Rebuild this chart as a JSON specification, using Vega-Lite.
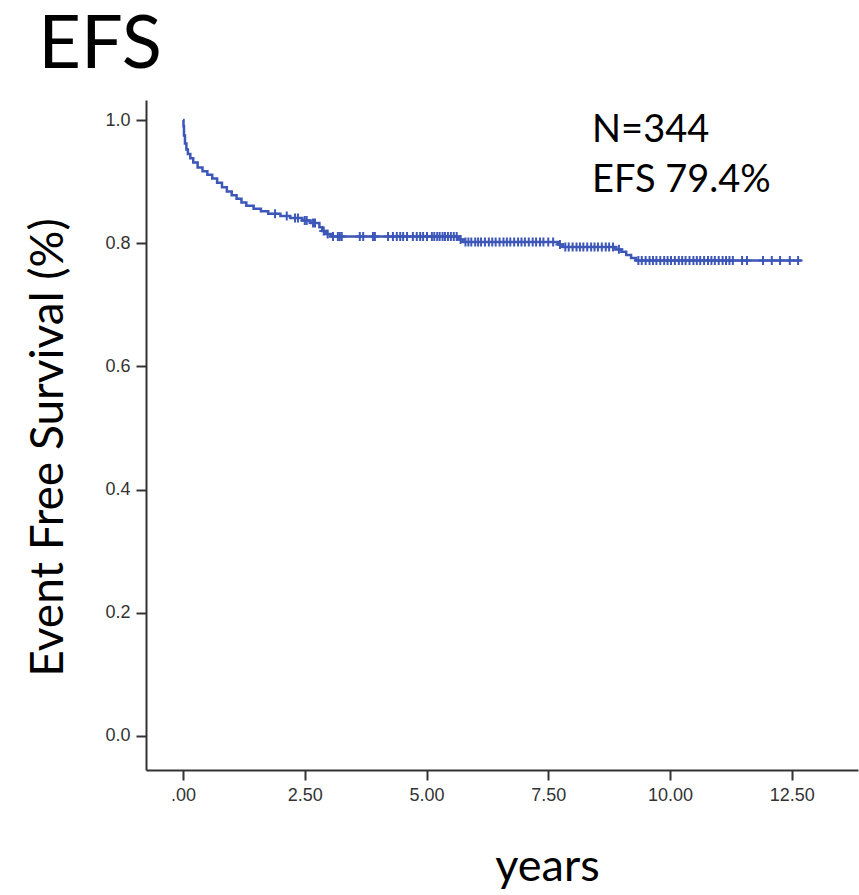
{
  "$schema": "https://vega.github.io/schema/vega-lite/v6.json",
  "width": 712,
  "height": 670,
  "autosize": "none",
  "padding": {"left": 146, "top": 100, "right": 1, "bottom": 125},
  "background": "white",
  "config": {"view": {"stroke": null}},
  "datasets": {
    "km": [
      {"t": 0, "s": 1.0, "c": 0},
      {"t": 0.01, "s": 0.99, "c": 0},
      {"t": 0.02, "s": 0.975, "c": 0},
      {"t": 0.04, "s": 0.962, "c": 0},
      {"t": 0.07, "s": 0.952, "c": 0},
      {"t": 0.10, "s": 0.945, "c": 0},
      {"t": 0.15, "s": 0.938, "c": 0},
      {"t": 0.21, "s": 0.931, "c": 0},
      {"t": 0.30, "s": 0.923, "c": 0},
      {"t": 0.40, "s": 0.917, "c": 0},
      {"t": 0.50, "s": 0.911, "c": 0},
      {"t": 0.60, "s": 0.905, "c": 0},
      {"t": 0.70, "s": 0.898, "c": 0},
      {"t": 0.80, "s": 0.891, "c": 0},
      {"t": 0.90, "s": 0.884, "c": 0},
      {"t": 1.00, "s": 0.878, "c": 0},
      {"t": 1.10, "s": 0.872, "c": 0},
      {"t": 1.20, "s": 0.866, "c": 0},
      {"t": 1.30, "s": 0.861, "c": 0},
      {"t": 1.45, "s": 0.856, "c": 0},
      {"t": 1.60, "s": 0.852, "c": 0},
      {"t": 1.75, "s": 0.848, "c": 0},
      {"t": 1.89, "s": 0.848, "c": 1},
      {"t": 2.00, "s": 0.844, "c": 0},
      {"t": 2.13, "s": 0.844, "c": 1},
      {"t": 2.20, "s": 0.841, "c": 0},
      {"t": 2.30, "s": 0.841, "c": 1},
      {"t": 2.36, "s": 0.841, "c": 1},
      {"t": 2.45, "s": 0.837, "c": 0},
      {"t": 2.50, "s": 0.837, "c": 1},
      {"t": 2.54, "s": 0.837, "c": 1},
      {"t": 2.62, "s": 0.833, "c": 0},
      {"t": 2.67, "s": 0.833, "c": 1},
      {"t": 2.71, "s": 0.833, "c": 1},
      {"t": 2.80, "s": 0.826, "c": 0},
      {"t": 2.86, "s": 0.820, "c": 0},
      {"t": 2.89, "s": 0.820, "c": 1},
      {"t": 2.93, "s": 0.815, "c": 0},
      {"t": 2.97, "s": 0.815, "c": 1},
      {"t": 3.03, "s": 0.811, "c": 0},
      {"t": 3.08, "s": 0.811, "c": 1},
      {"t": 3.18, "s": 0.811, "c": 1},
      {"t": 3.22, "s": 0.811, "c": 1},
      {"t": 3.26, "s": 0.811, "c": 1},
      {"t": 3.63, "s": 0.811, "c": 1},
      {"t": 3.70, "s": 0.811, "c": 1},
      {"t": 3.90, "s": 0.811, "c": 1},
      {"t": 3.94, "s": 0.811, "c": 1},
      {"t": 4.21, "s": 0.811, "c": 1},
      {"t": 4.31, "s": 0.811, "c": 1},
      {"t": 4.39, "s": 0.811, "c": 1},
      {"t": 4.46, "s": 0.811, "c": 1},
      {"t": 4.52, "s": 0.811, "c": 1},
      {"t": 4.60, "s": 0.811, "c": 1},
      {"t": 4.72, "s": 0.811, "c": 1},
      {"t": 4.80, "s": 0.811, "c": 1},
      {"t": 4.87, "s": 0.811, "c": 1},
      {"t": 4.93, "s": 0.811, "c": 1},
      {"t": 5.01, "s": 0.811, "c": 1},
      {"t": 5.11, "s": 0.811, "c": 1},
      {"t": 5.16, "s": 0.811, "c": 1},
      {"t": 5.22, "s": 0.811, "c": 1},
      {"t": 5.27, "s": 0.811, "c": 1},
      {"t": 5.33, "s": 0.811, "c": 1},
      {"t": 5.38, "s": 0.811, "c": 1},
      {"t": 5.44, "s": 0.811, "c": 1},
      {"t": 5.50, "s": 0.811, "c": 1},
      {"t": 5.56, "s": 0.811, "c": 1},
      {"t": 5.62, "s": 0.811, "c": 1},
      {"t": 5.66, "s": 0.806, "c": 0},
      {"t": 5.70, "s": 0.806, "c": 1},
      {"t": 5.76, "s": 0.802, "c": 0},
      {"t": 5.80, "s": 0.802, "c": 1},
      {"t": 5.86, "s": 0.802, "c": 1},
      {"t": 5.92, "s": 0.802, "c": 1},
      {"t": 6.00, "s": 0.802, "c": 1},
      {"t": 6.06, "s": 0.802, "c": 1},
      {"t": 6.12, "s": 0.802, "c": 1},
      {"t": 6.20, "s": 0.802, "c": 1},
      {"t": 6.28, "s": 0.802, "c": 1},
      {"t": 6.35, "s": 0.802, "c": 1},
      {"t": 6.42, "s": 0.802, "c": 1},
      {"t": 6.50, "s": 0.802, "c": 1},
      {"t": 6.58, "s": 0.802, "c": 1},
      {"t": 6.65, "s": 0.802, "c": 1},
      {"t": 6.72, "s": 0.802, "c": 1},
      {"t": 6.80, "s": 0.802, "c": 1},
      {"t": 6.88, "s": 0.802, "c": 1},
      {"t": 6.95, "s": 0.802, "c": 1},
      {"t": 7.02, "s": 0.802, "c": 1},
      {"t": 7.10, "s": 0.802, "c": 1},
      {"t": 7.18, "s": 0.802, "c": 1},
      {"t": 7.25, "s": 0.802, "c": 1},
      {"t": 7.33, "s": 0.802, "c": 1},
      {"t": 7.40, "s": 0.802, "c": 1},
      {"t": 7.50, "s": 0.802, "c": 1},
      {"t": 7.60, "s": 0.802, "c": 1},
      {"t": 7.70, "s": 0.798, "c": 0},
      {"t": 7.74, "s": 0.798, "c": 1},
      {"t": 7.80, "s": 0.794, "c": 0},
      {"t": 7.85, "s": 0.794, "c": 1},
      {"t": 7.92, "s": 0.794, "c": 1},
      {"t": 8.00, "s": 0.794, "c": 1},
      {"t": 8.08, "s": 0.794, "c": 1},
      {"t": 8.15, "s": 0.794, "c": 1},
      {"t": 8.22, "s": 0.794, "c": 1},
      {"t": 8.30, "s": 0.794, "c": 1},
      {"t": 8.38, "s": 0.794, "c": 1},
      {"t": 8.45, "s": 0.794, "c": 1},
      {"t": 8.52, "s": 0.794, "c": 1},
      {"t": 8.60, "s": 0.794, "c": 1},
      {"t": 8.68, "s": 0.794, "c": 1},
      {"t": 8.75, "s": 0.794, "c": 1},
      {"t": 8.83, "s": 0.794, "c": 1},
      {"t": 8.88, "s": 0.790, "c": 0},
      {"t": 8.95, "s": 0.790, "c": 1},
      {"t": 9.00, "s": 0.786, "c": 0},
      {"t": 9.10, "s": 0.781, "c": 0},
      {"t": 9.20, "s": 0.776, "c": 0},
      {"t": 9.30, "s": 0.772, "c": 0},
      {"t": 9.35, "s": 0.772, "c": 1},
      {"t": 9.42, "s": 0.772, "c": 1},
      {"t": 9.50, "s": 0.772, "c": 1},
      {"t": 9.58, "s": 0.772, "c": 1},
      {"t": 9.65, "s": 0.772, "c": 1},
      {"t": 9.72, "s": 0.772, "c": 1},
      {"t": 9.80, "s": 0.772, "c": 1},
      {"t": 9.88, "s": 0.772, "c": 1},
      {"t": 9.95, "s": 0.772, "c": 1},
      {"t": 10.02, "s": 0.772, "c": 1},
      {"t": 10.10, "s": 0.772, "c": 1},
      {"t": 10.18, "s": 0.772, "c": 1},
      {"t": 10.25, "s": 0.772, "c": 1},
      {"t": 10.32, "s": 0.772, "c": 1},
      {"t": 10.40, "s": 0.772, "c": 1},
      {"t": 10.48, "s": 0.772, "c": 1},
      {"t": 10.55, "s": 0.772, "c": 1},
      {"t": 10.62, "s": 0.772, "c": 1},
      {"t": 10.70, "s": 0.772, "c": 1},
      {"t": 10.78, "s": 0.772, "c": 1},
      {"t": 10.85, "s": 0.772, "c": 1},
      {"t": 10.92, "s": 0.772, "c": 1},
      {"t": 11.00, "s": 0.772, "c": 1},
      {"t": 11.08, "s": 0.772, "c": 1},
      {"t": 11.15, "s": 0.772, "c": 1},
      {"t": 11.22, "s": 0.772, "c": 1},
      {"t": 11.29, "s": 0.772, "c": 1},
      {"t": 11.48, "s": 0.772, "c": 1},
      {"t": 11.58, "s": 0.772, "c": 1},
      {"t": 11.91, "s": 0.772, "c": 1},
      {"t": 12.09, "s": 0.772, "c": 1},
      {"t": 12.26, "s": 0.772, "c": 1},
      {"t": 12.46, "s": 0.772, "c": 1},
      {"t": 12.63, "s": 0.772, "c": 1},
      {"t": 12.70, "s": 0.772, "c": 0}
    ],
    "notes": [
      {"t": 8.40, "s": 0.964, "label": "N=344", "size": "small"},
      {"t": 8.40, "s": 0.883, "label": "EFS 79.4%", "size": "small"}
    ],
    "heading": [
      {"t": -2.97, "s": 1.084, "label": "EFS"}
    ]
  },
  "encoding": {
    "x": {
      "field": "t",
      "type": "quantitative",
      "scale": {"domain": [-0.76, 13.86], "nice": false, "zero": false},
      "axis": {
        "values": [0, 2.5, 5, 7.5, 10, 12.5],
        "labelExpr": "datum.value == 0 ? '.00' : format(datum.value, '.2f')",
        "grid": false,
        "domainColor": "#333333",
        "domainWidth": 2,
        "tickColor": "#333333",
        "tickWidth": 2,
        "tickSize": 10,
        "labelFont": "Liberation Sans",
        "labelFontSize": 18,
        "labelColor": "#333333",
        "labelPadding": 6,
        "title": "years",
        "titleFont": "Lato",
        "titleFontSize": 45,
        "titleFontWeight": "normal",
        "titleColor": "#000000",
        "titleAnchor": null,
        "titleX": 401,
        "titleY": 110,
        "titleAlign": "center",
        "titleBaseline": "alphabetic"
      }
    },
    "y": {
      "field": "s",
      "type": "quantitative",
      "scale": {"domain": [-0.0552, 1.0325], "nice": false, "zero": false},
      "axis": {
        "values": [0, 0.2, 0.4, 0.6, 0.8, 1.0],
        "format": ".1f",
        "grid": false,
        "domainColor": "#333333",
        "domainWidth": 2,
        "tickColor": "#333333",
        "tickWidth": 2,
        "tickSize": 10,
        "labelFont": "Liberation Sans",
        "labelFontSize": 18,
        "labelColor": "#333333",
        "labelPadding": 6,
        "title": "Event Free Survival (%)",
        "titleFont": "Lato",
        "titleFontSize": 46,
        "titleFontWeight": "normal",
        "titleColor": "#000000",
        "titleAnchor": null,
        "titleAngle": -90,
        "titleX": -84,
        "titleY": 347,
        "titleAlign": "center",
        "titleBaseline": "alphabetic"
      }
    }
  },
  "layer": [
    {
      "data": {"name": "km"},
      "mark": {"type": "line", "interpolate": "step-after", "color": "#3d57b8", "strokeWidth": 2.5},
      "encoding": {"order": {"field": "t", "type": "quantitative"}}
    },
    {
      "data": {"name": "km"},
      "transform": [{"filter": "datum.c == 1"}],
      "mark": {"type": "point", "shape": "M-1,0H1M0,-1V1", "filled": false, "color": "#3d57b8", "strokeWidth": 2, "size": 81, "opacity": 1}
    },
    {
      "data": {"name": "notes"},
      "mark": {"type": "text", "align": "left", "baseline": "alphabetic", "font": "Lato", "fontSize": 38, "color": "#000000"},
      "encoding": {"text": {"field": "label"}}
    },
    {
      "data": {"name": "heading"},
      "mark": {"type": "text", "align": "left", "baseline": "alphabetic", "font": "Lato", "fontSize": 74, "color": "#000000"},
      "encoding": {"text": {"field": "label"}}
    }
  ]
}
